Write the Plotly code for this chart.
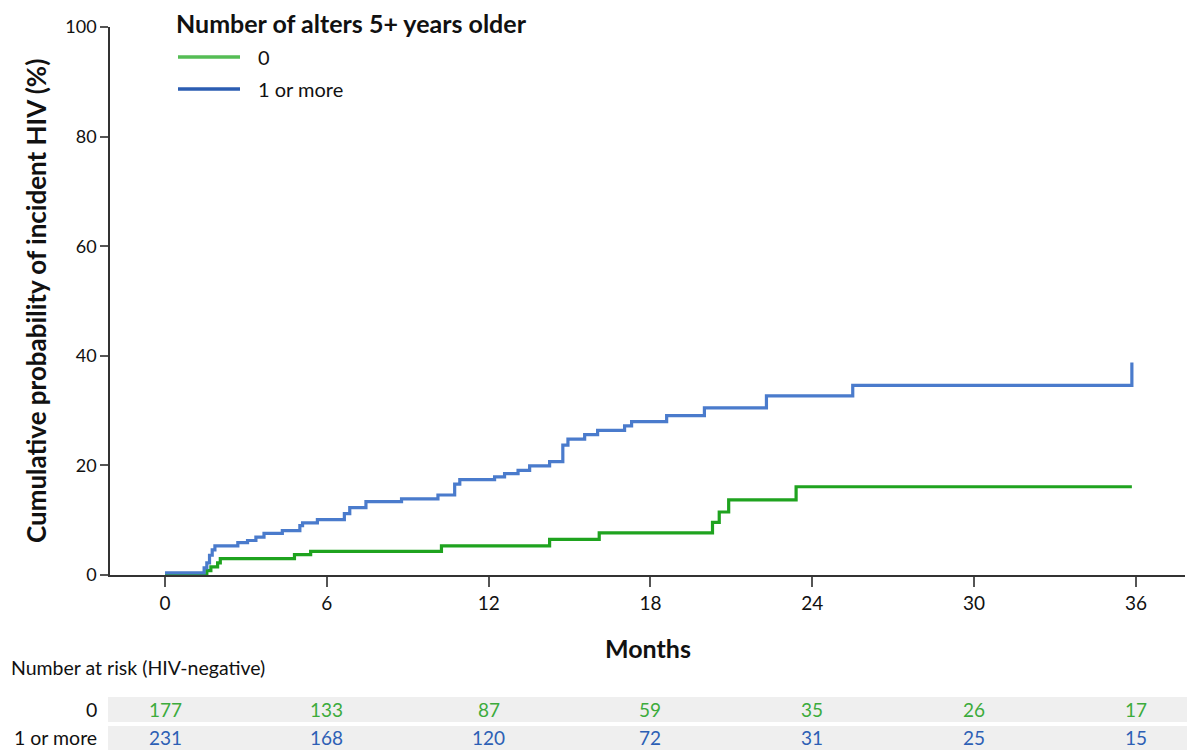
import plotly.graph_objects as go

# Kaplan-Meier style cumulative incidence (step functions)
months_none = [0, 1.55, 1.7, 1.95, 2.05, 4.8, 5.4, 10.25, 14.26, 16.1, 20.3, 20.55, 20.9, 23.4, 35.85]
cuminc_none = [0, 0.8, 1.5, 2.2, 3.0, 3.7, 4.3, 5.3, 6.5, 7.7, 9.6, 11.5, 13.7, 16.1, 16.1]

months_older = [0, 1.45, 1.55, 1.65, 1.75, 1.85, 2.7, 3.06, 3.37, 3.67, 4.35, 5.0, 5.1, 5.65,
                6.65, 6.85, 7.45, 8.77, 10.12, 10.74, 10.93, 12.22, 12.59, 13.09, 13.52,
                14.26, 14.75, 14.94, 15.56, 16.04, 17.04, 17.3, 18.6, 20.0, 22.3, 25.5, 35.85]
cuminc_older = [0.4, 1.3, 2.2, 3.6, 4.6, 5.3, 5.9, 6.3, 6.9, 7.6, 8.1, 9.0, 9.5, 10.1,
                11.2, 12.3, 13.4, 13.9, 14.6, 16.6, 17.4, 17.9, 18.5, 19.1, 19.9,
                20.7, 23.7, 24.8, 25.6, 26.4, 27.2, 28.0, 29.1, 30.5, 32.7, 34.6, 38.8]

# Number-at-risk table
risk_times = [0, 6, 12, 18, 24, 30, 36]
risk_none = [177, 133, 87, 59, 35, 26, 17]
risk_older = [231, 168, 120, 72, 31, 25, 15]

group_labels = ["0", "1 or more"]
legend_title = "Number of alters 5+ years older"

x_ticks = [0, 6, 12, 18, 24, 30, 36]
y_ticks = [0, 20, 40, 60, 80, 100]

GREEN = "#1fa31f"
BLUE = "#4a7bcc"
GREEN_TXT = "#3cab3c"
BLUE_TXT = "#2d5fb5"
FONT = "Lato"

fig = go.Figure()
fig.add_trace(go.Scatter(x=months_none, y=cuminc_none, mode="lines",
                         line=dict(color=GREEN, width=3.2, shape="hv"),
                         name=group_labels[0], showlegend=False))
fig.add_trace(go.Scatter(x=months_older, y=cuminc_older, mode="lines",
                         line=dict(color=BLUE, width=3.2, shape="hv"),
                         name=group_labels[1], showlegend=False))

annotations = []
shapes = []

# plot-area pixel helpers (plot area spans x 110..1185, y 27..575)
px_w = 1185 - 110
px_h = 575 - 27


def pxx(p):
    return (p - 110) / px_w


def pxy(p):
    return (575 - p) / px_h


# Legend block
annotations.append(dict(text="<b>%s</b>" % legend_title, x=pxx(174), y=pxy(23), xref="paper", yref="paper",
                        xanchor="left", yanchor="middle", showarrow=False,
                        font=dict(family=FONT, size=25, color="#111")))
for lab, col, py in [(group_labels[0], "#55bd55", 57), (group_labels[1], "#2b5db2", 89)]:
    shapes.append(dict(type="line", xref="paper", yref="paper", x0=pxx(178), x1=pxx(240),
                       y0=pxy(py), y1=pxy(py), line=dict(color=col, width=3.5)))
    annotations.append(dict(text=lab, x=pxx(256), y=pxy(py), xref="paper", yref="paper",
                            xanchor="left", yanchor="middle", showarrow=False,
                            font=dict(family=FONT, size=20, color="#111")))

# Axis titles
annotations.append(dict(text="<b>Cumulative probability of incident HIV (%)</b>", x=pxx(36), y=0.5,
                        xref="paper", yref="paper", textangle=-90, showarrow=False,
                        xanchor="center", yanchor="middle",
                        font=dict(family=FONT, size=26, color="#111")))
annotations.append(dict(text="<b>Months</b>", x=0.5, y=pxy(648), xref="paper", yref="paper",
                        showarrow=False, xanchor="center", yanchor="middle",
                        font=dict(family=FONT, size=25, color="#111")))

# Number-at-risk table
annotations.append(dict(text="Number at risk (HIV-negative)", x=pxx(9), y=pxy(667), xref="paper",
                        yref="paper", xanchor="left", yanchor="middle", showarrow=False,
                        font=dict(family=FONT, size=19.5, color="#111")))
rows = [(group_labels[0], risk_none, GREEN_TXT, 697, 722),
        (group_labels[1], risk_older, BLUE_TXT, 726, 750)]
for lab, counts, col, top, bot in rows:
    shapes.append(dict(type="rect", xref="paper", yref="paper", x0=pxx(108), x1=pxx(1187),
                       y0=pxy(bot), y1=pxy(top), fillcolor="#efefef", line=dict(width=0),
                       layer="below"))
    mid = pxy((top + bot) / 2)
    annotations.append(dict(text=lab, x=pxx(99), y=mid, xref="paper", yref="paper",
                            xanchor="right", yanchor="middle", showarrow=False,
                            font=dict(family=FONT, size=19.5, color="#111")))
    for t, n in zip(risk_times, counts):
        annotations.append(dict(text=str(n), x=t, y=mid, xref="x", yref="paper",
                                xanchor="center", yanchor="middle", showarrow=False,
                                font=dict(family=FONT, size=19, color=col)))

fig.update_layout(
    width=1201, height=751,
    margin=dict(l=110, r=16, t=27, b=176),
    paper_bgcolor="white", plot_bgcolor="white",
    font=dict(family=FONT, color="#222"),
    annotations=annotations, shapes=shapes,
    showlegend=False,
)
fig.update_xaxes(range=[-2.04, 37.82], tickvals=x_ticks, ticktext=[str(v) for v in x_ticks],
                 showline=True, linecolor="#333", linewidth=1.5, ticks="outside", ticklen=10,
                 tickcolor="#555", tickwidth=1.5, showgrid=False, zeroline=False,
                 tickfont=dict(family=FONT, size=19, color="#111"))
fig.update_yaxes(range=[0, 100], tickvals=y_ticks, showline=True, linecolor="#333", linewidth=1.5,
                 ticks="outside", ticklen=8, tickcolor="#555", tickwidth=1.5, showgrid=False,
                 zeroline=False, tickfont=dict(family=FONT, size=18, color="#111"))

fig.write_html("out.html")
